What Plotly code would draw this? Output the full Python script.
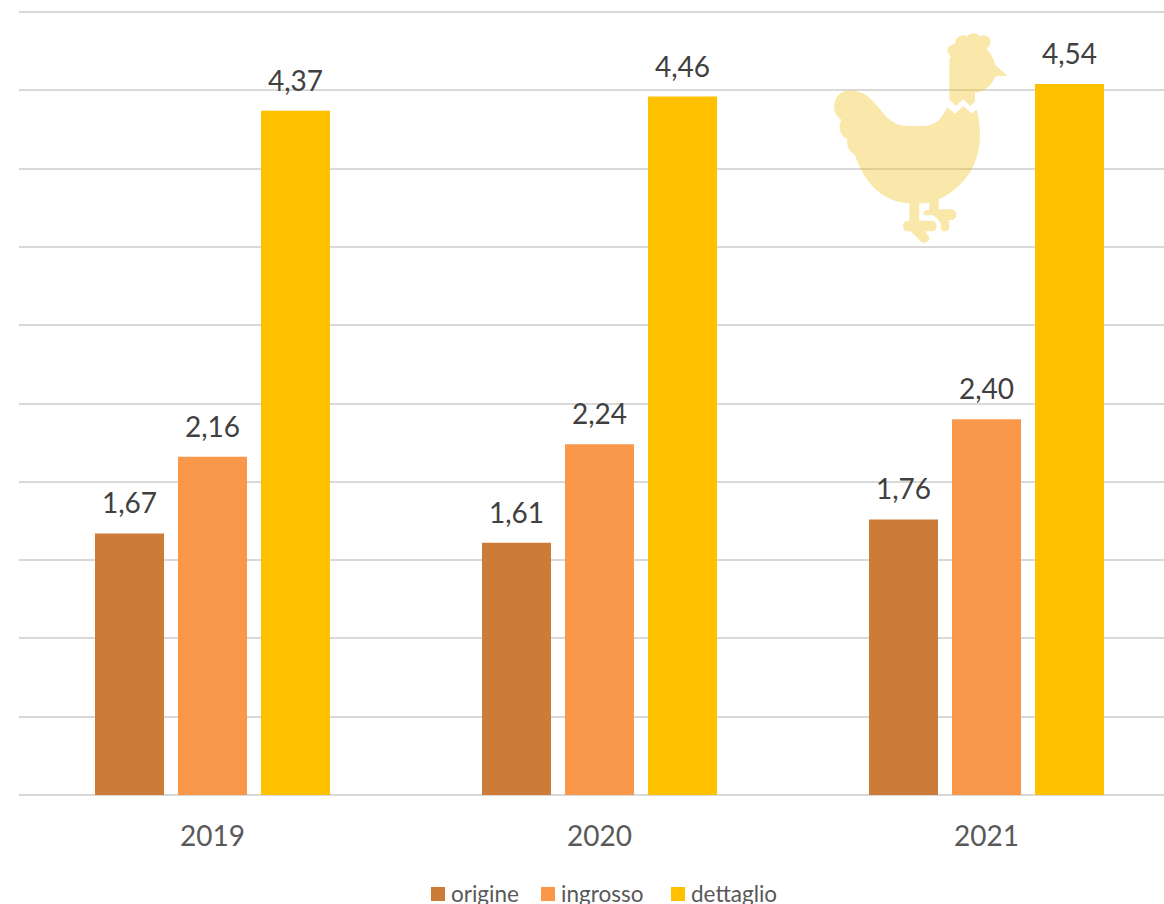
import re
import plotly.graph_objects as go

years = ["2019", "2020", "2021"]
origine = [1.67, 1.61, 1.76]
ingrosso = [2.16, 2.24, 2.40]
dettaglio = [4.37, 4.46, 4.54]
series_names = ["origine", "ingrosso", "dettaglio"]
series_colors = ["#CD7B38", "#F9984A", "#FFC000"]

W, H = 1164, 904
L, T, B = 19, 7, 109
PX_PER_CAT = 387
PX_PER_UNIT = 156.6
X0 = 212.5
x_limits = [(L - X0) / PX_PER_CAT, (W - X0) / PX_PER_CAT]
y_limits = [0, (H - B - T) / PX_PER_UNIT]
PITCH = 83 / PX_PER_CAT

HEN = (
    "M388 238 L388 120 C388 112 392 110 393 110 C380 100 378 82 394 76 "
    "C402 72 404 72 406 70 C404 52 428 38 440 50 C448 36 474 36 480 50 "
    "C492 40 514 50 511 68 C510 78 504 84 499 86 C512 100 522 116 525 134 "
    "L563 168 C550 167 535 167 524 172 C516 198 490 216 465 218 L465 245 "
    "L450 258 L430 238 L408 258 Z "
    "M381 262 L405 281 L430 258 L455 281 L470 268 C478 300 482 335 479 365 "
    "C474 430 440 490 380 525 C372 531 364 535 356 538 L356 568 L395 568 "
    "C414 568 414 600 395 600 L385 600 C392 618 388 636 374 634 C362 634 360 624 363 612 "
    "C358 602 350 592 338 586 L318 586 C308 586 308 570 320 570 L328 570 L328 548 "
    "C318 549 308 550 298 550 L298 602 L335 602 C355 602 355 634 335 634 L314 634 "
    "L324 646 C336 660 316 676 302 664 L272 634 L262 634 C244 632 244 604 262 603 "
    "L268 603 L268 550 C180 545 130 480 105 405 C88 396 78 376 82 358 "
    "C62 348 52 322 64 299 C44 288 38 262 44 246 C54 214 80 210 100 212 "
    "C130 214 150 232 170 256 C198 292 220 318 262 318 L312 318 C345 318 368 295 381 262 Z"
)


def zoom_to_data(match):
    px = 820 + float(match.group(1)) / 3
    py = 20 + float(match.group(2)) / 3
    return f"{(px - X0) / PX_PER_CAT:.5f},{(H - B - py) / PX_PER_UNIT:.5f}"


hen_path = re.sub(r"(-?\d+(?:\.\d+)?) (-?\d+(?:\.\d+)?)", zoom_to_data, HEN)


def paper_x(px):
    return (px - L) / (W - L)


def paper_y(py):
    return (H - B - py) / (H - B - T)


fig = go.Figure()
all_values = [origine, ingrosso, dettaglio]
for s, (name, vals, color) in enumerate(zip(series_names, all_values, series_colors)):
    fig.add_bar(
        name=name,
        x=list(range(len(years))),
        y=vals,
        marker=dict(color=color, line_width=0),
        hoverinfo="name+y",
    )
    for i, v in enumerate(vals):
        fig.add_annotation(
            x=i + (s - 1) * PITCH,
            y=v,
            text=f"{v:.2f}".replace(".", ","),
            showarrow=False,
            yanchor="bottom",
            yshift=12,
            font=dict(family="Lato", size=28, color="#404040"),
        )

fig.add_shape(
    type="path",
    path=hen_path,
    xref="x",
    yref="y",
    fillcolor="#EDBB05",
    opacity=0.34,
    line_width=0,
    fillrule="nonzero",
    layer="above",
)

# Legend drawn by hand: the reference's runs off the bottom edge of the page
legend_swatch_left = [431, 541, 671]
legend_text_left = [451, 561, 691]
for name, color, sx, tx in zip(series_names, series_colors, legend_swatch_left, legend_text_left):
    fig.add_shape(
        type="rect",
        xref="paper",
        yref="paper",
        x0=paper_x(sx),
        x1=paper_x(sx + 14),
        y0=paper_y(901),
        y1=paper_y(887),
        fillcolor=color,
        line_width=0,
    )
    fig.add_annotation(
        xref="paper",
        yref="paper",
        x=paper_x(tx),
        y=paper_y(893),
        xanchor="left",
        yanchor="middle",
        xshift=-1,
        text=name,
        showarrow=False,
        borderpad=0,
        font=dict(family="Lato", size=22.5, color="#595959"),
    )

fig.update_layout(
    width=W,
    height=H,
    margin=dict(l=L, r=0, t=T, b=B, pad=0),
    paper_bgcolor="white",
    plot_bgcolor="white",
    barmode="group",
    bargap=1 - 249 / 387,
    bargroupgap=14 / 83,
    font=dict(family="Lato", color="#595959"),
    showlegend=False,
    xaxis=dict(
        range=x_limits,
        automargin=False,
        tickmode="array",
        tickvals=list(range(len(years))),
        ticktext=years,
        tickfont=dict(family="Lato", size=28, color="#595959"),
        ticks="",
        ticklabelstandoff=22,
        showgrid=False,
        zeroline=False,
        showline=False,
    ),
    yaxis=dict(
        range=y_limits,
        automargin=False,
        tick0=0,
        dtick=0.5,
        showticklabels=False,
        ticks="",
        gridcolor="#D9D9D9",
        gridwidth=2,
        zeroline=True,
        zerolinecolor="#D9D9D9",
        zerolinewidth=2,
        showline=False,
    ),
)

fig.write_html(
    "out.html",
    config={"displayModeBar": False},
    post_script="document.body.style.margin='0';document.documentElement.style.overflow='hidden';",
)
